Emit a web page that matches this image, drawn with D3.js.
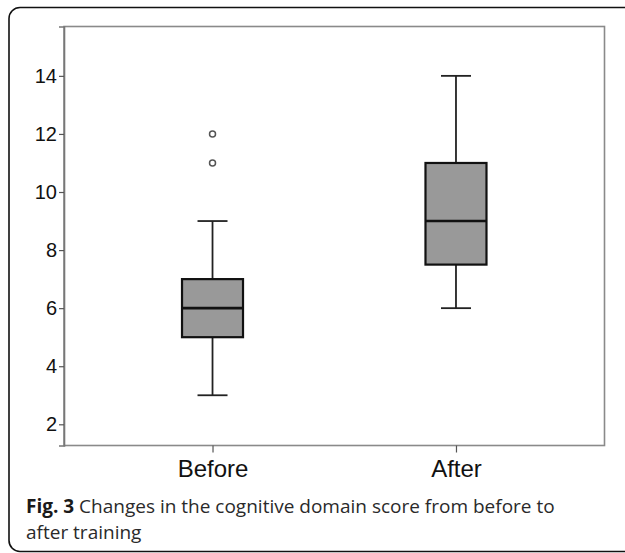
<!DOCTYPE html>
<html><head><meta charset="utf-8">
<script src="https://cdn.jsdelivr.net/npm/d3@7"></script>
<style>body{margin:0;background:#fff}svg{display:block}</style>
</head><body>
<script>
const categories = ["Before", "After"];
const whiskerLow = [3, 6];
const q1 = [5, 7.5];
const median = [6, 9];
const q3 = [7, 11];
const whiskerHigh = [9, 14];
const outliers = [[12, 11], []];
const yTicks = [2, 4, 6, 8, 10, 12, 14];
const captionBold = "Fig. 3";
const captionLine1 = " Changes in the cognitive domain score from before to";
const captionLine2 = "after training";

const W = 625, H = 553;
const svg = d3.select("body").append("svg").attr("width", W).attr("height", H);

// outer rounded frame
svg.append("rect").attr("x", 9).attr("y", 7.5).attr("width", 640).attr("height", 544)
  .attr("rx", 11).attr("fill", "none").attr("stroke", "#111").attr("stroke-width", 1.6);

const L = 64, R = 604.5, T = 26.5, B = 445.5;
const x = d3.scalePoint().domain(categories).range([L, R]).padding(0.61);
const y = d3.scaleLinear().domain([1.27, 15.7]).range([B, T]);

// plot frame
svg.append("rect").attr("x", L).attr("y", T).attr("width", R - L).attr("height", B - T)
  .attr("fill", "none").attr("stroke", "#8a8a8a").attr("stroke-width", 1.6);

// y axis
const yAxis = svg.append("g").attr("transform", `translate(${L},0)`)
  .call(d3.axisLeft(y).tickValues(yTicks).tickSize(5).tickPadding(2).tickFormat(d3.format("d")));
yAxis.select(".domain").attr("stroke", "#777").attr("stroke-width", 1.6);
yAxis.selectAll(".tick line").attr("stroke", "#555").attr("stroke-width", 1.2);
yAxis.selectAll(".tick text").attr("font-family", "Liberation Sans, Arial, sans-serif")
  .attr("font-size", 20).attr("fill", "#111");

// x axis
const xAxis = svg.append("g").attr("transform", `translate(0,${B})`)
  .call(d3.axisBottom(x).tickSize(7).tickPadding(6));
xAxis.select(".domain").remove();
xAxis.selectAll(".tick line").attr("stroke", "#555").attr("stroke-width", 1.2);
xAxis.selectAll(".tick text").attr("font-family", "Liberation Sans, Arial, sans-serif")
  .attr("font-size", 24).attr("fill", "#111").attr("dy", null).attr("y", 31.5);

const boxW = 61, capW = 30;
const g = svg.append("g");
categories.forEach((c, i) => {
  const cx = x(c);
  // whiskers
  g.append("line").attr("x1", cx).attr("x2", cx).attr("y1", y(whiskerHigh[i])).attr("y2", y(q3[i]))
    .attr("stroke", "#222").attr("stroke-width", 1.8);
  g.append("line").attr("x1", cx).attr("x2", cx).attr("y1", y(q1[i])).attr("y2", y(whiskerLow[i]))
    .attr("stroke", "#222").attr("stroke-width", 1.8);
  [whiskerHigh[i], whiskerLow[i]].forEach(v => {
    g.append("line").attr("x1", cx - capW / 2).attr("x2", cx + capW / 2).attr("y1", y(v)).attr("y2", y(v))
      .attr("stroke", "#222").attr("stroke-width", 1.8);
  });
  // box
  g.append("rect").attr("x", cx - boxW / 2).attr("y", y(q3[i])).attr("width", boxW)
    .attr("height", y(q1[i]) - y(q3[i])).attr("fill", "#999999").attr("stroke", "#111").attr("stroke-width", 2.2);
  g.append("line").attr("x1", cx - boxW / 2).attr("x2", cx + boxW / 2).attr("y1", y(median[i])).attr("y2", y(median[i]))
    .attr("stroke", "#111").attr("stroke-width", 2.6);
  outliers[i].forEach(v => {
    g.append("circle").attr("cx", cx).attr("cy", y(v)).attr("r", 3)
      .attr("fill", "#fff").attr("stroke", "#555").attr("stroke-width", 1.5);
  });
});

// caption
const cap = svg.append("text").attr("x", 26).attr("y", 512.5)
  .attr("font-family", "Open Sans, sans-serif").attr("font-size", 19).attr("fill", "#2a2a2a");
cap.append("tspan").attr("font-weight", "bold").attr("fill", "#1a1a1a").text(captionBold);
cap.append("tspan").text(captionLine1);
svg.append("text").attr("x", 26).attr("y", 538.5)
  .attr("font-family", "Open Sans, sans-serif").attr("font-size", 19).attr("fill", "#2a2a2a").text(captionLine2);
</script>
</body></html>
